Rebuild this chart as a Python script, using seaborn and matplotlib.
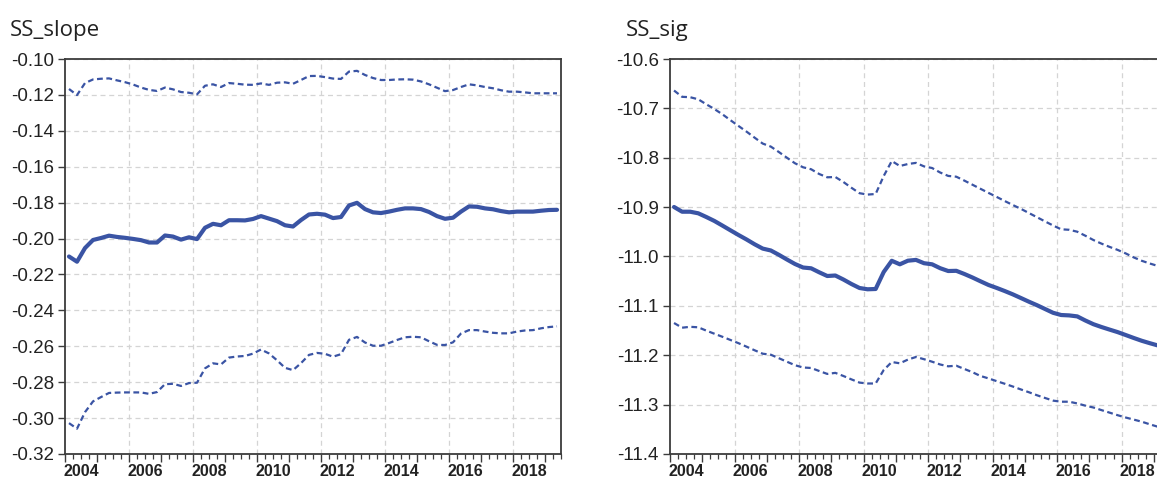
import numpy as np
import pandas as pd
import matplotlib
matplotlib.use("Agg")
import matplotlib.pyplot as plt
import seaborn as sns
from matplotlib.ticker import FixedLocator, NullFormatter

# ---- data: quarterly rolling estimates with +/- 2 s.e. bands ----
quarters = pd.period_range("2004Q1", periods=62, freq="Q")

slope_est = [
    -0.2100, -0.2129, -0.2053, -0.2008, -0.1997, -0.1984, -0.1991, -0.1996,
    -0.2002, -0.2009, -0.2022, -0.2022, -0.1983, -0.1989, -0.2006, -0.1993,
    -0.2003, -0.1940, -0.1918, -0.1926, -0.1898, -0.1898, -0.1899, -0.1891,
    -0.1875, -0.1889, -0.1903, -0.1926, -0.1933, -0.1897, -0.1866, -0.1862,
    -0.1867, -0.1886, -0.1880, -0.1816, -0.1801, -0.1836, -0.1854, -0.1858,
    -0.1850, -0.1840, -0.1832, -0.1832, -0.1836, -0.1852, -0.1875, -0.1890,
    -0.1884, -0.1850, -0.1821, -0.1823, -0.1832, -0.1837, -0.1847, -0.1854,
    -0.1850, -0.1850, -0.1850, -0.1845, -0.1841, -0.1840,
]
slope_upper = [
    -0.1167, -0.1201, -0.1134, -0.1114, -0.1110, -0.1108, -0.1119, -0.1129,
    -0.1142, -0.1159, -0.1172, -0.1178, -0.1159, -0.1169, -0.1184, -0.1188,
    -0.1197, -0.1149, -0.1141, -0.1156, -0.1134, -0.1138, -0.1143, -0.1144,
    -0.1136, -0.1144, -0.1132, -0.1130, -0.1138, -0.1117, -0.1095, -0.1094,
    -0.1101, -0.1109, -0.1111, -0.1070, -0.1066, -0.1089, -0.1106, -0.1117,
    -0.1117, -0.1114, -0.1113, -0.1115, -0.1125, -0.1141, -0.1160, -0.1179,
    -0.1173, -0.1156, -0.1141, -0.1147, -0.1156, -0.1163, -0.1174, -0.1182,
    -0.1182, -0.1186, -0.1191, -0.1191, -0.1191, -0.1191,
]
slope_lower = [
    -0.3028, -0.3059, -0.2967, -0.2907, -0.2883, -0.2860, -0.2858, -0.2857,
    -0.2857, -0.2857, -0.2865, -0.2855, -0.2811, -0.2809, -0.2821, -0.2805,
    -0.2803, -0.2723, -0.2695, -0.2701, -0.2663, -0.2657, -0.2654, -0.2641,
    -0.2618, -0.2640, -0.2678, -0.2720, -0.2733, -0.2694, -0.2648, -0.2637,
    -0.2642, -0.2658, -0.2644, -0.2564, -0.2548, -0.2579, -0.2597, -0.2597,
    -0.2582, -0.2565, -0.2550, -0.2547, -0.2550, -0.2572, -0.2592, -0.2593,
    -0.2578, -0.2529, -0.2510, -0.2510, -0.2518, -0.2525, -0.2528, -0.2528,
    -0.2518, -0.2512, -0.2510, -0.2500, -0.2493, -0.2489,
]

sig_est = [
    -10.8997, -10.9093, -10.9093, -10.9125, -10.9200, -10.9280, -10.9374, -10.9470,
    -10.9565, -10.9656, -10.9753, -10.9840, -10.9878, -10.9966, -11.0061, -11.0152,
    -11.0223, -11.0239, -11.0320, -11.0395, -11.0385, -11.0466, -11.0557, -11.0638,
    -11.0664, -11.0658, -11.0314, -11.0087, -11.0158, -11.0085, -11.0069, -11.0136,
    -11.0158, -11.0237, -11.0294, -11.0290, -11.0354, -11.0425, -11.0502, -11.0577,
    -11.0636, -11.0699, -11.0766, -11.0840, -11.0915, -11.0986, -11.1063, -11.1140,
    -11.1185, -11.1193, -11.1213, -11.1296, -11.1371, -11.1428, -11.1480, -11.1531,
    -11.1590, -11.1650, -11.1707, -11.1756, -11.1802, -11.1843,
]
sig_upper = [
    -10.6638, -10.6766, -10.6774, -10.6816, -10.6917, -10.7013, -10.7120, -10.7240,
    -10.7357, -10.7472, -10.7594, -10.7713, -10.7774, -10.7884, -10.8000, -10.8112,
    -10.8193, -10.8233, -10.8329, -10.8396, -10.8390, -10.8491, -10.8608, -10.8718,
    -10.8746, -10.8734, -10.8370, -10.8066, -10.8167, -10.8127, -10.8104, -10.8175,
    -10.8208, -10.8299, -10.8368, -10.8384, -10.8463, -10.8546, -10.8629, -10.8712,
    -10.8793, -10.8876, -10.8957, -10.9034, -10.9119, -10.9204, -10.9289, -10.9372,
    -10.9449, -10.9459, -10.9498, -10.9579, -10.9666, -10.9739, -10.9805, -10.9866,
    -10.9937, -11.0018, -11.0087, -11.0142, -11.0192, -11.0243,
]
sig_lower = [
    -11.1347, -11.1442, -11.1424, -11.1434, -11.1501, -11.1564, -11.1626, -11.1691,
    -11.1756, -11.1827, -11.1900, -11.1969, -11.1989, -11.2060, -11.2131, -11.2202,
    -11.2248, -11.2258, -11.2319, -11.2378, -11.2357, -11.2420, -11.2489, -11.2554,
    -11.2572, -11.2572, -11.2299, -11.2137, -11.2163, -11.2088, -11.2035, -11.2080,
    -11.2131, -11.2187, -11.2224, -11.2212, -11.2278, -11.2343, -11.2420, -11.2469,
    -11.2524, -11.2577, -11.2633, -11.2692, -11.2749, -11.2810, -11.2865, -11.2919,
    -11.2941, -11.2941, -11.2976, -11.3021, -11.3058, -11.3111, -11.3162, -11.3214,
    -11.3261, -11.3303, -11.3346, -11.3399, -11.3448, -11.3494,
]

year_labels = [2004, 2006, 2008, 2010, 2012, 2014, 2016, 2018]
slope_ticks = [-0.32, -0.30, -0.28, -0.26, -0.24, -0.22, -0.20, -0.18, -0.16, -0.14, -0.12, -0.10]
sig_ticks = [-11.4, -11.3, -11.2, -11.1, -11.0, -10.9, -10.8, -10.7, -10.6]

# ---- styling ----
sns.set_theme(style="white")
plt.rcParams["font.family"] = ["Liberation Sans", "DejaVu Sans"]

LINE = "#3a54a4"
SPINE = "#3c3c3c"
GRID = "#d4d4d4"
DASH = (0, (2.6, 1.6))

W, H = 1157, 479
fig = plt.figure(figsize=(W / 100, H / 100), dpi=100)

# quarter mid-points on a decimal-year axis
t = (quarters.year + (quarters.quarter - 0.5) / 4).to_numpy(dtype=float)
x_lo, x_hi = 2004.0, 2019.5


def panel(rect, est, upper, lower, yticks, fmt, title, title_x):
    ax = fig.add_axes(rect)
    df = pd.DataFrame({"t": t, "est": est, "upper": upper, "lower": lower})
    sns.lineplot(data=df, x="t", y="upper", ax=ax, color=LINE, lw=1.6,
                 linestyle=DASH, errorbar=None)
    sns.lineplot(data=df, x="t", y="lower", ax=ax, color=LINE, lw=1.6,
                 linestyle=DASH, errorbar=None)
    sns.lineplot(data=df, x="t", y="est", ax=ax, color=LINE, lw=3.0,
                 errorbar=None, solid_joinstyle="round")
    ax.set_xlim(x_lo, x_hi)
    ax.set_ylim(yticks[0], yticks[-1])
    ax.set_xlabel("")
    ax.set_ylabel("")

    # y axis: ticks outward on the left with dashed horizontal grid
    ax.set_yticks(yticks)
    ax.set_yticklabels([fmt.format(v) for v in yticks])
    ax.tick_params(axis="y", which="major", left=True, right=False,
                   direction="out", length=5, width=1.0, color=SPINE,
                   labelsize=13.5, labelcolor="#222222", pad=3)
    ax.yaxis.grid(True, color=GRID, lw=0.9, linestyle=(0, (4, 3)))

    # x axis: long ticks at each year, short ticks each quarter
    years = np.arange(2004, 2020)
    ax.xaxis.set_major_locator(FixedLocator(years))
    ax.xaxis.set_major_formatter(NullFormatter())
    q = np.arange(x_lo, x_hi + 1e-9, 0.25)
    ax.xaxis.set_minor_locator(FixedLocator([v for v in q if v % 1 != 0]))
    ax.tick_params(axis="x", which="major", bottom=True, top=False,
                   direction="out", length=6, width=1.0, color=SPINE)
    ax.tick_params(axis="x", which="minor", bottom=True, top=False,
                   direction="out", length=3.5, width=0.9, color=SPINE)
    ax.xaxis.grid(False)
    for yr in year_labels[1:]:
        ax.axvline(yr, color=GRID, lw=0.9, linestyle=(0, (4, 3)), zorder=0)

    # year labels centred over each labelled year
    sec = ax.secondary_xaxis("bottom")
    sec.set_xticks([y + 0.5 for y in year_labels])
    sec.set_xticklabels([str(y) for y in year_labels])
    sec.tick_params(length=0, pad=7, labelsize=11.5, labelcolor="#222222")
    for lab in sec.get_xticklabels():
        lab.set_fontweight("bold")
    for s in sec.spines.values():
        s.set_visible(False)

    for s in ax.spines.values():
        s.set_visible(True)
        s.set_color(SPINE)
        s.set_linewidth(1.3)

    fig.text(title_x / W, 1 - 36 / H, title, family=["Open Sans", "DejaVu Sans"],
             fontsize=16, color="#222222", ha="left", va="baseline")
    return ax


bottom = 1 - 454 / H
height = (454 - 59) / H
panel([65 / W, bottom, 496 / W, height], slope_est, slope_upper, slope_lower,
      slope_ticks, "{:.2f}", "SS_slope", 10)
panel([670 / W, bottom, 500 / W, height], sig_est, sig_upper, sig_lower,
      sig_ticks, "{:.1f}", "SS_sig", 626)

fig.savefig("out.png", dpi=100)
